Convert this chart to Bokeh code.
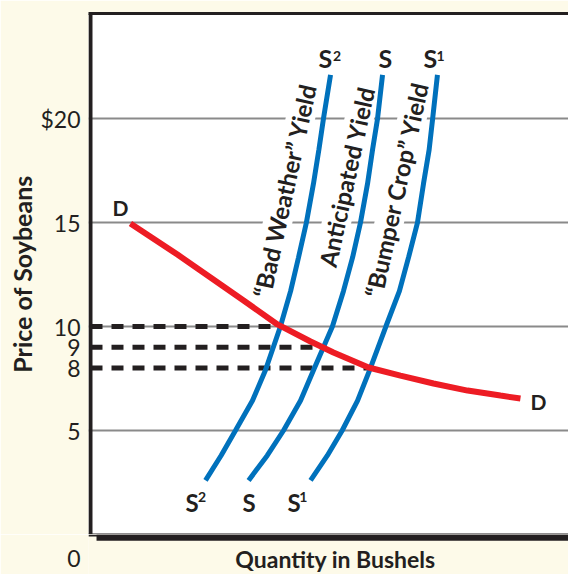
from bokeh.plotting import figure
from bokeh.layouts import column
from bokeh.models import FixedTicker, LinearAxis, BoxAnnotation, Range1d
from bokeh.embed import file_html
from bokeh.resources import INLINE
from bokeh.core.properties import value

# ---- data ----
demand_q = [1.92, 4.18, 5.77, 7.36, 8.99, 10.58, 11.68, 13.37, 14.90, 16.49, 18.13, 19.71, 20.67]
demand_p = [14.95, 13.46, 12.36, 11.25, 10.10, 9.28, 8.75, 8.03, 7.64, 7.26, 6.92, 6.68, 6.54]

supply_p = [2.6, 3.8, 5.0, 6.44, 7.9, 10.0, 11.7, 13.32, 15.0, 16.875, 18.5, 20.0, 22.1]
s2_q = [5.53, 6.28, 6.97, 7.79, 8.41, 9.13, 9.62, 10.00, 10.38, 10.72, 10.98, 11.20, 11.54]   # "Bad Weather"
s_q = [7.60, 8.50, 9.28, 10.10, 10.72, 11.63, 12.16, 12.60, 12.98, 13.32, 13.56, 13.80, 14.04]  # Anticipated
s1_q = [10.58, 11.39, 12.10, 12.84, 13.42, 14.20, 14.85, 15.29, 15.72, 16.01, 16.28, 16.45, 16.68]  # "Bumper Crop"

eq_price = [10, 9, 8]
eq_qty = [9.15, 11.18, 13.45]

price_ticks = [5, 8, 9, 10, 15, 20]
grid_ticks = [5, 10, 15, 20]
tick_overrides = {20: "$20"}
origin_label = "0"
origin_tick = -1.154

curve_names = ["\u201cBad Weather\u201d Yield", "Anticipated Yield", "\u201cBumper Crop\u201d Yield"]
curve_letters = ["S", "S", "S"]
sup_digits = ["2", "1"]

# ---- style ----
CREAM = "#FDFAE9"
BLUE = "#0071BC"
RED = "#ED1C24"
INK = "#231F20"
GRID = "#8A8A8A"
FONT = "Lato"
X_RANGE = (-0.096, 22.98)


def plain_y_axis(ax, ticks, overrides):
    ax.ticker = FixedTicker(ticks=ticks)
    ax.major_label_overrides = overrides
    ax.major_tick_line_color = None
    ax.minor_tick_line_color = None
    ax.major_tick_out = 0
    ax.major_tick_in = 0
    ax.minor_tick_out = 0
    ax.major_label_standoff = 8
    ax.major_label_text_font = FONT
    ax.major_label_text_font_size = "23px"
    ax.major_label_text_color = INK
    ax.axis_line_color = None


# ================= main chart =================
p = figure(width=568, height=534, x_range=Range1d(*X_RANGE), y_range=Range1d(0, 25.05),
           output_backend="svg", toolbar_location=None, x_axis_location=None,
           min_border_left=88, min_border_right=0, min_border_top=13, min_border_bottom=0)
p.background_fill_color = "white"
p.border_fill_color = CREAM
p.outline_line_color = None

plain_y_axis(p.yaxis[0], price_ticks, tick_overrides)
p.yaxis.axis_label = "Price of Soybeans"
p.yaxis.axis_label_text_font = FONT
p.yaxis.axis_label_text_font_style = "bold"
p.yaxis.axis_label_text_font_size = "25px"
p.yaxis.axis_label_text_color = INK
p.yaxis.axis_label_standoff = 0

top_axis = LinearAxis(ticker=FixedTicker(ticks=[]), major_label_text_font_size="0px",
                      major_tick_line_color=None, minor_tick_line_color=None,
                      major_tick_out=0, minor_tick_out=0,
                      major_label_standoff=0, axis_line_width=3, axis_line_color=INK)
p.add_layout(top_axis, "above")

p.xgrid.visible = False
p.ygrid.ticker = FixedTicker(ticks=grid_ticks)
p.ygrid.grid_line_color = GRID
p.ygrid.grid_line_width = 2

# box borders
p.add_layout(BoxAnnotation(left=-0.1, right=0.096, fill_color=INK, fill_alpha=1, line_color=None))
p.add_layout(BoxAnnotation(left=-0.1, top=0.05, fill_color=INK, fill_alpha=1, line_color=None))

# rotated curve names with white knock-out
p.text(x=[9.33, 12.31, 14.71], y=[16.54, 17.21, 16.59], text=curve_names,
       angle=1.355, text_align="center", text_baseline="middle",
       text_font=value(FONT), text_font_style="bold", text_font_size="24px",
       text_color=INK, background_fill_color="white")

# dashed equilibrium lines
p.segment(x0=[0] * 3, y0=eq_price, x1=eq_qty, y1=eq_price,
          line_color=INK, line_width=5, line_dash="12 9")

# curves
for q in (s2_q, s_q, s1_q):
    p.line(q, supply_p, line_color=BLUE, line_width=5)
p.line(demand_q, demand_p, line_color=RED, line_width=6)

# curve labels (S with superscript digits)
label_kw = dict(text_align="left", text_baseline="middle", text_font=value(FONT),
                text_font_style="bold", text_color=INK)
p.text(x=[10.96, 13.85, 16.01], y=[22.91] * 3, text=curve_letters, text_font_size="25px", **label_kw)
p.text(x=[11.66, 16.64], y=[23.03] * 2, text=sup_digits, text_font_size="14px", **label_kw)
p.text(x=[4.57, 7.31, 9.47], y=[1.56] * 3, text=curve_letters, text_font_size="24px", **label_kw)
p.text(x=[5.17, 10.03], y=[1.78] * 2, text=sup_digits, text_font_size="14px", **label_kw)
p.text(x=[1.06, 21.15], y=[15.70, 6.39], text=["D", "D"], text_font_size="21px", **label_kw)

# ================= strip under the box =================
pb = figure(width=568, height=40, x_range=Range1d(*X_RANGE), y_range=Range1d(-1.923, 0),
            output_backend="svg", toolbar_location=None, x_axis_location=None,
            min_border_left=88, min_border_right=0, min_border_top=0, min_border_bottom=0)
pb.background_fill_color = CREAM
pb.border_fill_color = CREAM
pb.outline_line_color = None
pb.grid.visible = False
plain_y_axis(pb.yaxis[0], [origin_tick], {origin_tick: origin_label})

# bottom edge of the box and its drop shadow
pb.add_layout(BoxAnnotation(left=-0.1, bottom=-0.1, fill_color=INK, fill_alpha=1, line_color=None))
pb.add_layout(BoxAnnotation(left=0.29, bottom=-0.3, fill_color=INK, fill_alpha=1, line_color=None))

pb.text(x=[11.78], y=[-1.154], text=["Quantity in Bushels"], text_align="center",
        text_baseline="middle", text_font=value(FONT), text_font_style="bold",
        text_font_size="23px", text_color=INK)

layout = column(p, pb, spacing=0)
open("out.html", "w").write(file_html(layout, INLINE))
